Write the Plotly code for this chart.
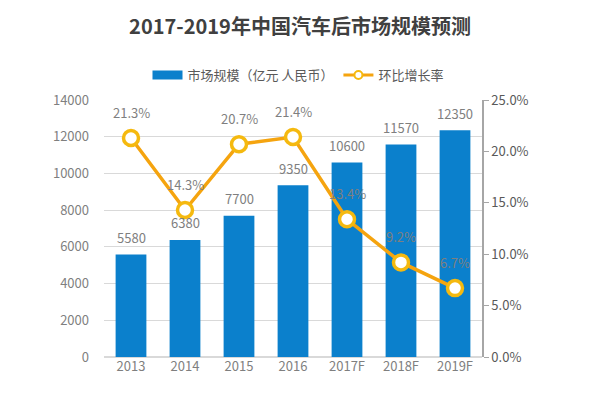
import plotly.graph_objects as go

years = ["2013", "2014", "2015", "2016", "2017F", "2018F", "2019F"]
market_size = [5580, 6380, 7700, 9350, 10600, 11570, 12350]
growth_rate = [0.213, 0.143, 0.207, 0.214, 0.134, 0.092, 0.067]
growth_labels = ["21.3%", "14.3%", "20.7%", "21.4%", "13.4%", "9.2%", "6.7%"]

FONT = "Noto Sans CJK SC, Open Sans, sans-serif"
BAR_C = "#0B80CC"
LINE_C = "#F5A40F"
MARK_C = "#F5B90F"

# the page body adds an 8px offset; figure is sized so it fits the window
W, H = 592, 389

fig = go.Figure()
fig.add_trace(go.Bar(
    x=years, y=market_size, name="市场规模（亿元 人民币）", showlegend=False,
    marker=dict(color=BAR_C, line=dict(width=0)), width=0.57,
))
fig.add_trace(go.Scatter(
    x=years, y=growth_rate, name="环比增长率", yaxis="y2", showlegend=False,
    mode="lines+markers",
    line=dict(color=LINE_C, width=3.5),
    marker=dict(size=15, color="white", line=dict(color=MARK_C, width=3.5)),
))
# legend-only entries (wide rectangle for bars, small circle on the line)
fig.add_trace(go.Scatter(
    x=[years[0]], y=[None], name="市场规模（亿元 人民币）", mode="lines",
    line=dict(color=BAR_C, width=9),
))
fig.add_trace(go.Scatter(
    x=[years[0]], y=[None], name="环比增长率", mode="lines+markers", yaxis="y2",
    line=dict(color=LINE_C, width=3),
    marker=dict(size=8, color="white", line=dict(color=MARK_C, width=2)),
))

annotations = []
# on a category axis, annotation x is the category's serial number
for i, v in enumerate(market_size):
    annotations.append(dict(x=i, y=v, xref="x", yref="y", text=str(v),
                            showarrow=False, yshift=17,
                            font=dict(size=13, color="#7F7F7F", family=FONT)))
for i, (v, t) in enumerate(zip(growth_rate, growth_labels)):
    annotations.append(dict(x=i, y=v, xref="x", yref="y2", text=t,
                            showarrow=False, yshift=26,
                            font=dict(size=13, color="#7F7F7F", family=FONT)))

fig.update_layout(
    width=W, height=H,
    margin=dict(l=96, r=118, t=92, b=40, autoexpand=False),
    paper_bgcolor="white", plot_bgcolor="white",
    font=dict(family=FONT, size=13, color="#7F7F7F"),
    title=dict(text="<b>2017-2019年中国汽车后市场规模预测</b>",
               x=(300 - 8) / W, xref="container", xanchor="center",
               y=1 - (27 - 8) / H, yref="container", yanchor="middle",
               font=dict(size=20, color="#404040", family=FONT)),
    legend=dict(orientation="h", x=(298 - 8) / W, xref="container", xanchor="center",
                y=1 - (75 - 8) / H, yref="container", yanchor="middle",
                font=dict(size=13, color="#595959", family=FONT),
                itemwidth=30, bgcolor="rgba(0,0,0,0)"),
    xaxis=dict(type="category", showline=False, ticks="", showgrid=False,
               range=[-0.5, len(years) - 0.5],
               tickfont=dict(size=13, color="#7F7F7F")),
    yaxis=dict(range=[0, 14000], dtick=2000, tickformat="d", showgrid=True,
               gridcolor="#D9D9D9", gridwidth=1, zeroline=True,
               zerolinecolor="#D9D9D9", showline=False,
               tickfont=dict(size=13, color="#7F7F7F"), ticklabelstandoff=14),
    yaxis2=dict(range=[0, 0.25], dtick=0.05, tickformat=".1%", overlaying="y",
                side="right", showgrid=False, zeroline=False, showline=True,
                linecolor="#A6A6A6", linewidth=1.5, ticks="outside", ticklen=5,
                tickcolor="#A6A6A6", tickfont=dict(size=13, color="#595959")),
    annotations=annotations,
)

fig.write_html("out.html")
